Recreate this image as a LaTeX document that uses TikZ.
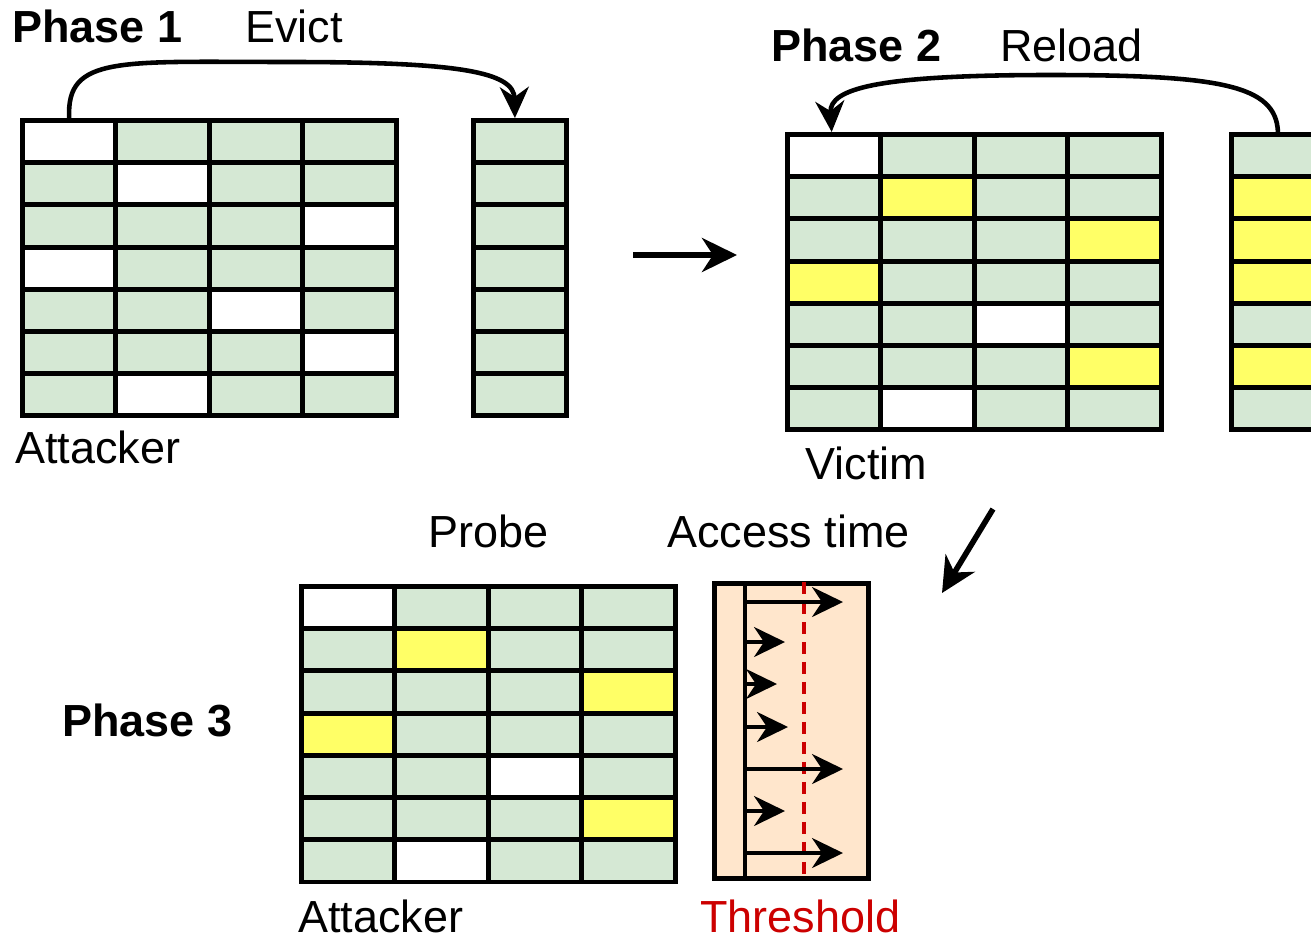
\documentclass[tikz,border=0pt]{standalone}
\usepackage{fontspec}
\setmainfont{Liberation Sans}
\usetikzlibrary{arrows.meta}

\definecolor{cg}{HTML}{D5E8D4}
\definecolor{cw}{HTML}{FFFFFF}
\definecolor{cy}{HTML}{FFFF66}
\definecolor{peach}{HTML}{FFE6CC}
\definecolor{thr}{HTML}{CC0000}

\tikzset{
  cell/.style={draw=black, line width=2.8pt, rectangle, inner sep=0pt,
    minimum width=1.87cm, minimum height=0.846cm, anchor=north west},
  lbl/.style={inner sep=0pt, anchor=base west, font=\fontsize{25.6pt}{30pt}\selectfont},
  phase/.style={inner sep=0pt, anchor=base west, font=\fontsize{25.6pt}{30pt}\selectfont\bfseries},
  flow/.style={line width=3.2pt, -{Stealth[length=0.7cm,width=0.68cm,inset=0.22cm]}},
  loopflow/.style={line width=2.6pt, -{Stealth[length=0.62cm,width=0.58cm,inset=0.2cm]}},
  tick/.style={line width=2pt, -{Stealth[length=0.62cm,width=0.6cm,inset=0.2cm]}},
}

% a cache of 7 sets x 4 ways: #1 name prefix, #2/#3 top-left corner, #4 rows r/k1/k2/k3/k4
\newcommand\cachegrid[4]{%
  \foreach \rr/\ka/\kb/\kc/\kd in {#4}{%
    \foreach \cl/\kk in {1/\ka,2/\kb,3/\kc,4/\kd}{%
      \node[cell, fill=c\kk] (#1-\rr-\cl) at ({#2+(\cl-1)*93.5},{#3+(\rr-1)*42.2}) {};
    }}}
% a single column of 7 lines: #1 prefix, #2/#3 top-left corner, #4 rows r/k
\newcommand\cachecol[4]{%
  \foreach \rr/\kk in {#4}{%
    \node[cell, fill=c\kk, minimum width=1.86cm] (#1-\rr) at ({#2},{#3+(\rr-1)*42.2}) {};
  }}

\begin{document}
\begin{tikzpicture}[x=0.02cm, y=-0.02cm]
\useasboundingbox (0,0) rectangle (1311,940);

% ---------- Phase 1: evict ----------
\cachegrid{pa}{20}{118}{1/w/g/g/g, 2/g/w/g/g, 3/g/g/g/w, 4/w/g/g/g, 5/g/g/w/g, 6/g/g/g/w, 7/g/w/g/g}
\cachecol{ca}{471}{118}{1/g, 2/g, 3/g, 4/g, 5/g, 6/g, 7/g}
\node[phase] (ph1) at (12,42) {Phase 1};
\node[lbl] (evict) at (245,42) {Evict};
\node[lbl] (att1) at (15,463) {Attacker};
\draw[loopflow] (pa-1-1.north) .. controls (66,55) and (120,62) .. (290,62)
  .. controls (460,62) and (514,72) .. ([xshift=-0.1cm]ca-1.north);

% ---------- Phase 2: reload ----------
\cachegrid{pb}{785}{132}{1/w/g/g/g, 2/g/y/g/g, 3/g/g/g/y, 4/y/g/g/g, 5/g/g/w/g, 6/g/g/g/y, 7/g/w/g/g}
\cachecol{cb}{1229}{132}{1/g, 2/y, 3/y, 4/y, 5/g, 6/y, 7/g}
\node[phase] (ph2) at (771,61) {Phase 2};
\node[lbl] (reload) at (1000,61) {Reload};
\node[lbl] (vic) at (805,479) {Victim};
\draw[loopflow] (cb-1.north) .. controls (1276,85) and (1220,75) .. (1050,75)
  .. controls (880,75) and (829,88) .. ([xshift=-0.05cm]pb-1-1.north);

% ---------- transitions ----------
\coordinate (a1s) at (633,255);
\coordinate (a1e) at (737,255);
\draw[flow] (a1s) -- (a1e);
\coordinate (a2s) at (993,509);
\coordinate (a2e) at (942,593);
\draw[flow] (a2s) -- (a2e);

% ---------- Phase 3: probe ----------
\cachegrid{pc}{299}{584}{1/w/g/g/g, 2/g/y/g/g, 3/g/g/g/y, 4/y/g/g/g, 5/g/g/w/g, 6/g/g/g/y, 7/g/w/g/g}
\node[phase] (ph3) at (62,736) {Phase 3};
\node[lbl] (probe) at (428,547) {Probe};
\node[lbl] (acc) at (667,547) {Access time};
\node[lbl] (att3) at (298,932) {Attacker};
\node[lbl, text=thr] (thrlbl) at (700,932) {Threshold};

% access time chart
\node[draw=black, line width=2.8pt, fill=peach, rectangle, inner sep=0pt,
  minimum width=3.08cm, minimum height=5.9cm, anchor=north west] (tbox) at (712,581) {};
\draw[line width=2pt] (745,582) -- (745,876);
\draw[thr, line width=2.2pt, dash pattern=on 0.24cm off 0.16cm] (804,582) -- (804,877);
\foreach \yy/\xe in {602/843, 642/785, 684/777, 727/788, 769/843, 811/785, 853/843}
  \draw[tick] (745,\yy) -- (\xe,\yy);
\end{tikzpicture}
\end{document}
